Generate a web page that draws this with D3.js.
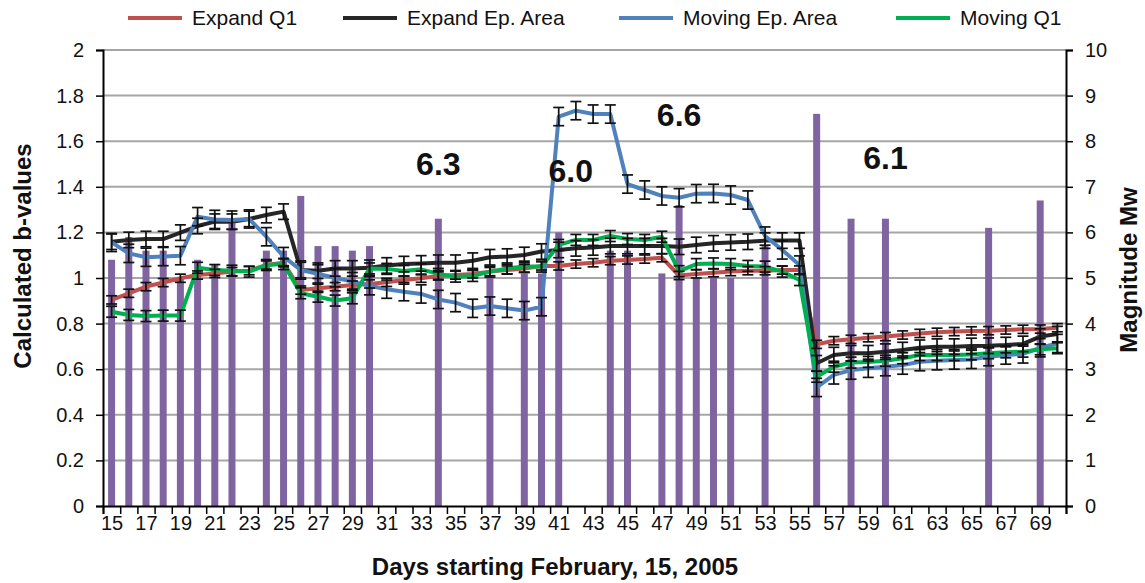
<!DOCTYPE html>
<html>
<head>
<meta charset="utf-8">
<script src="https://cdn.jsdelivr.net/npm/d3@7"></script>
<style>
body { margin: 0; background: #fff; }
text { font-family: "Liberation Sans", Arial, sans-serif; }
</style>
</head>
<body>
<svg id="chart" width="1145" height="583"></svg>
<script>
// days since start (categories)
var days = [15,16,17,18,19,20,21,22,23,24,25,26,27,28,29,30,31,32,33,34,35,36,37,38,39,40,41,42,
            43,44,45,46,47,48,49,50,51,52,53,54,55,56,57,58,59,60,61,62,63,64,65,66,67,68,69,70];
var dayLabels = [15,17,19,21,23,25,27,29,31,33,35,37,39,41,43,45,47,49,51,53,55,57,59,61,63,65,67,69];

var expandQ1 = [0.904,0.933,0.962,0.980,0.999,1.013,1.020,1.028,1.032,1.057,1.067,0.947,0.955,0.962,0.969,0.974,0.981,
                0.991,0.999,1.009,1.013,1.018,1.028,1.035,1.042,1.053,1.053,1.061,1.067,1.076,1.079,1.083,1.089,1.011,
                1.018,1.023,1.028,1.032,1.032,1.035,1.035,
                0.709,0.725,0.731,0.738,0.743,0.750,0.757,0.762,0.765,0.768,0.769,0.772,0.775,0.776,0.782];
var expandEpArea = [1.159,1.167,1.171,1.171,1.199,1.228,1.247,1.247,1.259,1.276,1.291,1.035,1.032,1.042,1.042,1.045,1.055,
                1.061,1.064,1.067,1.067,1.076,1.091,1.094,1.101,1.116,1.123,1.130,1.134,1.140,1.140,1.140,1.140,1.137,
                1.145,1.152,1.156,1.159,1.164,1.164,1.164,
                0.626,0.662,0.670,0.670,0.677,0.684,0.694,0.699,0.699,0.702,0.703,0.706,0.711,0.743,0.754];
var movingEpArea = [1.156,1.108,1.091,1.094,1.098,1.269,1.257,1.254,1.259,1.181,1.094,1.035,1.018,1.001,0.984,0.966,0.951,
                0.940,0.930,0.906,0.892,0.867,0.877,0.867,0.857,0.874,
                1.708,1.734,1.719,1.719,1.412,1.386,1.360,1.352,1.370,
                1.371,1.364,1.342,1.184,1.123,1.057,
                0.520,0.575,0.596,0.604,0.611,0.618,0.633,0.637,0.640,0.643,0.655,0.662,0.667,0.694,0.713];
var movingQ1 = [0.852,0.838,0.833,0.835,0.835,1.045,1.035,1.032,1.028,1.057,1.061,0.933,0.918,0.901,0.911,1.042,1.040,
                1.031,1.038,1.018,1.006,1.009,1.028,1.042,1.050,1.050,1.145,1.167,1.167,1.184,1.171,1.167,1.181,1.030,
                1.061,1.064,1.061,1.053,1.050,1.028,0.991,
                0.567,0.611,0.629,0.632,0.637,0.648,0.662,0.662,0.662,0.665,0.670,0.674,0.677,0.687,0.692];

// error bar half sizes per series
var errQ1 = 0.018, errEpArea = 0.034, errMovEp = 0.04, errMovQ1 = 0.024;

// earthquakes (bars on right axis)
var quakeDays = [15,16,17,18,19,20,21,22,24,25,26,27,28,29,30,34,37,39,40,41,44,45,47,48,49,50,51,53,56,58,60,66,69];
var quakeMags = [5.4,5.9,5.6,5.6,5.0,5.4,5.3,6.2,5.6,5.6,6.8,5.7,5.7,5.6,5.7,6.3,5.0,5.1,5.1,6.0,5.6,5.6,5.1,6.6,5.0,5.0,5.0,5.7,8.6,6.3,6.3,6.1,6.7];

var noteText = ["6.3","6.0","6.6","6.1"];
var noteDay = [34,41.7,48,60];
var noteB = [1.45,1.42,1.665,1.48];

var bTicks = [0,0.2,0.4,0.6,0.8,1,1.2,1.4,1.6,1.8,2];
var magTicks = [0,1,2,3,4,5,6,7,8,9,10];

var seriesNames = ["Expand Q1","Expand Ep. Area","Moving Ep. Area","Moving Q1"];
var seriesColors = ["#c0504d","#262626","#4f81bd","#00b050"];
var seriesData = [expandQ1, expandEpArea, movingEpArea, movingQ1];
var seriesErr = [errQ1, errEpArea, errMovEp, errMovQ1];

var pLeft = 103, pRight = 1066, pTop = 50, pBottom = 506;
var svg = d3.select("#chart");

var x = d3.scaleLinear().domain([14.5, 70.5]).range([pLeft, pRight]);
var y = d3.scaleLinear().domain([0, 2]).range([pBottom, pTop]);
var y2 = d3.scaleLinear().domain([0, 10]).range([pBottom, pTop]);

// grid
svg.append("g").selectAll("line").data(bTicks.slice(1)).enter().append("line")
    .attr("x1", pLeft).attr("x2", pRight)
    .attr("y1", function(d){ return y(d); }).attr("y2", function(d){ return y(d); })
    .attr("stroke", "#a6a6a6").attr("stroke-width", 2);

// bars
svg.append("g").selectAll("rect").data(quakeDays).enter().append("rect")
    .attr("x", function(d){ return x(d) - 3.5; })
    .attr("width", 7)
    .attr("y", function(d, i){ return y2(quakeMags[i]); })
    .attr("height", function(d, i){ return pBottom - y2(quakeMags[i]); })
    .attr("fill", "#8064a2");

// lines
var line = d3.line().x(function(d, i){ return x(days[i]); }).y(function(d){ return y(d); });
seriesData.forEach(function(s, k){
    svg.append("path").datum(s)
        .attr("d", line)
        .attr("fill", "none")
        .attr("stroke", seriesColors[k])
        .attr("stroke-width", 4)
        .attr("stroke-linejoin", "round");
});

// error bars
seriesData.forEach(function(s, k){
    var g = svg.append("g").attr("stroke", "#111").attr("stroke-width", 1.7);
    var e = seriesErr[k];
    s.forEach(function(v, i){
        var cx = x(days[i]);
        g.append("line").attr("x1", cx).attr("x2", cx).attr("y1", y(v - e)).attr("y2", y(v + e));
        g.append("line").attr("x1", cx - 5.5).attr("x2", cx + 5.5).attr("y1", y(v - e)).attr("y2", y(v - e));
        g.append("line").attr("x1", cx - 5.5).attr("x2", cx + 5.5).attr("y1", y(v + e)).attr("y2", y(v + e));
    });
});

// axes
var fmt = function(d){ return String(d); };
var ax = svg.append("g").attr("transform", "translate(" + pLeft + ",0)")
    .call(d3.axisLeft(y).tickValues(bTicks).tickSize(7).tickPadding(12).tickFormat(fmt));
var ax2 = svg.append("g").attr("transform", "translate(" + pRight + ",0)")
    .call(d3.axisRight(y2).tickValues(magTicks).tickSize(7).tickPadding(12).tickFormat(fmt));
var bounds = days.map(function(d){ return d - 0.5; }).concat([70.5]);
var axb = svg.append("g").attr("transform", "translate(0," + pBottom + ")")
    .call(d3.axisBottom(x).tickValues(bounds).tickSize(8).tickFormat(""));
var axl = svg.append("g").attr("transform", "translate(0," + pBottom + ")")
    .call(d3.axisBottom(x).tickValues(dayLabels).tickSize(0).tickPadding(10).tickFormat(fmt));
axl.select(".domain").remove();

[ax, ax2, axb].forEach(function(a){
    a.selectAll("path.domain").attr("stroke", "#000").attr("stroke-width", 2);
    a.selectAll(".tick line").attr("stroke", "#000").attr("stroke-width", 1.5);
});
[ax, ax2, axl].forEach(function(a){
    a.selectAll("text").attr("font-size", 20).attr("fill", "#111")
        .style("font-family", "'Liberation Sans', Arial, sans-serif");
});

// annotations
svg.append("g").selectAll("text").data(noteText).enter().append("text")
    .attr("x", function(d, i){ return x(noteDay[i]); })
    .attr("y", function(d, i){ return y(noteB[i]); })
    .attr("text-anchor", "middle")
    .attr("font-size", 32).attr("font-weight", "bold").attr("fill", "#111")
    .text(function(d){ return d; });

// axis titles
svg.append("text").attr("x", 555).attr("y", 575)
    .attr("text-anchor", "middle").attr("font-size", 24).attr("font-weight", "bold").attr("fill", "#111")
    .text("Days starting February, 15, 2005");
svg.append("text").attr("transform", "translate(31,256) rotate(-90)")
    .attr("text-anchor", "middle").attr("font-size", 24).attr("font-weight", "bold").attr("fill", "#111")
    .text("Calculated b-values");
svg.append("text").attr("transform", "translate(1137,270) rotate(-90)")
    .attr("text-anchor", "middle").attr("font-size", 24).attr("font-weight", "bold").attr("fill", "#111")
    .text("Magnitude Mw");

// legend
var legX = [128, 343, 619, 896];
var leg = svg.append("g");
seriesNames.forEach(function(n, k){
    leg.append("line").attr("x1", legX[k]).attr("x2", legX[k] + 54).attr("y1", 18).attr("y2", 18)
        .attr("stroke", seriesColors[k]).attr("stroke-width", 4);
    leg.append("text").attr("x", legX[k] + 64).attr("y", 25)
        .attr("font-size", 21).attr("fill", "#111").text(n);
});
</script>
</body>
</html>
